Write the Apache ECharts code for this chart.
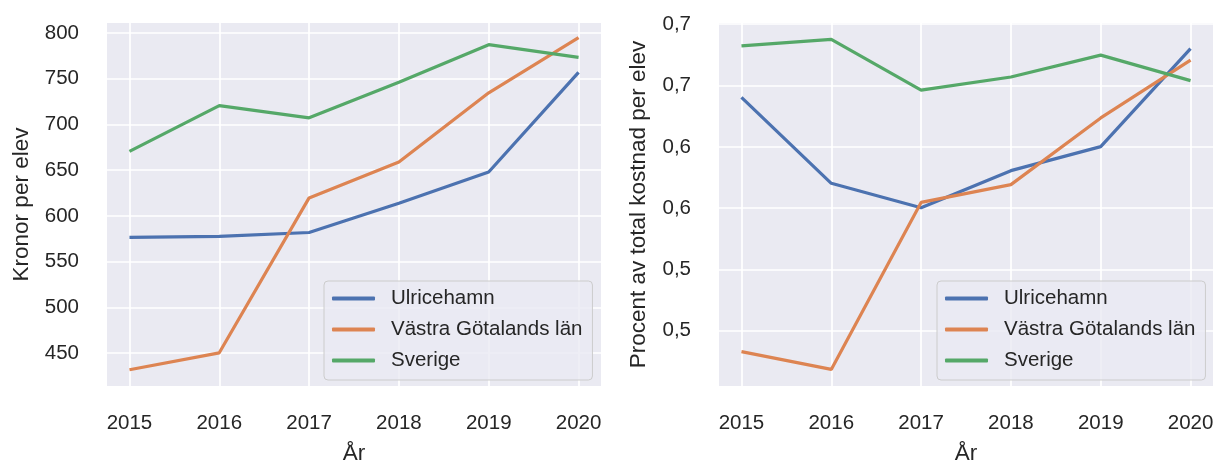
<!DOCTYPE html>
<html>
<head>
<meta charset="utf-8">
<script src="https://cdn.jsdelivr.net/npm/echarts@6/dist/echarts.min.js"></script>
<style>
html,body{margin:0;padding:0;background:#fff;}
#chart{width:1215px;height:464px;}
</style>
</head>
<body>
<div id="chart"></div>
<script>
const years = [2015, 2016, 2017, 2018, 2019, 2020];
const seriesNames = ['Ulricehamn', 'Västra Götalands län', 'Sverige'];

// Left: Kronor per elev
const kronorUlricehamn = [576.5, 577.6, 581.9, 613.9, 648.0, 757.0];
const kronorVastra     = [431.8, 450.3, 619.7, 658.9, 734.6, 795.0];
const kronorSverige    = [670.6, 720.7, 707.3, 746.2, 787.3, 773.4];

// Right: Procent av total kostnad per elev
const procentUlricehamn = [0.6403, 0.5703, 0.5504, 0.5806, 0.6002, 0.6801];
const procentVastra     = [0.4330, 0.4185, 0.5547, 0.5692, 0.6236, 0.6707];
const procentSverige    = [0.6823, 0.6877, 0.6462, 0.6570, 0.6748, 0.6540];

const leftTicks = [450, 500, 550, 600, 650, 700, 750, 800];
const rightTicks = [0.45, 0.50, 0.55, 0.60, 0.65, 0.70];
const rightTickLabels = ['0,5', '0,5', '0,6', '0,6', '0,7', '0,7'];

const colors = ['#4C72B0', '#DD8452', '#55A868'];
const textColor = '#262626';
const font = 'Liberation Sans, Arial, sans-serif';
const tickSize = 20.5;
const nameSize = 22.5;

function pairs(xs, ys) { return xs.map((x, i) => [x, ys[i]]); }

function xAxisDef(gridIndex) {
  return {
    type: 'value', gridIndex: gridIndex, min: 2014.75, max: 2020.25,
    name: 'År', nameLocation: 'middle', nameGap: 56,
    nameTextStyle: { color: textColor, fontSize: nameSize, fontFamily: font },
    axisLine: { show: false },
    axisTick: { show: false, customValues: years },
    axisLabel: { customValues: years, color: textColor, fontSize: tickSize, fontFamily: font, margin: 27,
      formatter: v => String(Math.round(v)) },
    splitLine: { show: true, lineStyle: { color: '#ffffff', width: 1.7 } }
  };
}

function yAxisDef(gridIndex, min, max, ticks, name, gap, fmt) {
  return {
    type: 'value', gridIndex: gridIndex, min: min, max: max,
    name: name, nameLocation: 'middle', nameGap: gap,
    nameTextStyle: { color: textColor, fontSize: nameSize, fontFamily: font },
    axisLine: { show: false },
    axisTick: { show: false, customValues: ticks },
    axisLabel: { customValues: ticks, color: textColor, fontSize: tickSize, fontFamily: font, margin: 28, formatter: fmt },
    splitLine: { show: true, lineStyle: { color: '#ffffff', width: 1.7 } }
  };
}

function lineSeries(name, data, idx, axisIdx) {
  return {
    type: 'line', name: name, data: data,
    xAxisIndex: axisIdx, yAxisIndex: axisIdx,
    showSymbol: false, symbol: 'none',
    lineStyle: { color: colors[idx], width: 3.2 },
    itemStyle: { color: colors[idx] },
    z: 3
  };
}

function legendDef(left) {
  return {
    data: seriesNames, orient: 'vertical', left: left, top: 281,
    icon: 'roundRect', itemWidth: 43, itemHeight: 4, itemGap: 10,
    padding: [7, 10, 9, 8],
    backgroundColor: 'rgba(234,234,242,0.8)',
    borderColor: '#cccccc', borderWidth: 1, borderRadius: 4,
    textStyle: { color: textColor, fontSize: tickSize, fontFamily: font, lineHeight: 20, padding: [0, 0, 0, 11] }
  };
}

const chart = echarts.init(document.getElementById('chart'), null, { renderer: 'canvas' });
chart.setOption({
  animation: false,
  backgroundColor: '#ffffff',
  grid: [
    { left: 107, right: 614, top: 23, bottom: 78, show: true, backgroundColor: '#EAEAF2', borderWidth: 0,
      containLabel: false, outerBoundsMode: 'none' },
    { left: 719, right: 2, top: 23, bottom: 78, show: true, backgroundColor: '#EAEAF2', borderWidth: 0,
      containLabel: false, outerBoundsMode: 'none' }
  ],
  xAxis: [xAxisDef(0), xAxisDef(1)],
  yAxis: [
    yAxisDef(0, 414, 811, leftTicks, 'Kronor per elev', 74, v => String(Math.round(v))),
    yAxisDef(1, 0.405, 0.701, rightTicks, 'Procent av total kostnad per elev', 69,
      v => { const i = rightTicks.findIndex(t => Math.abs(t - v) < 1e-6); return i >= 0 ? rightTickLabels[i] : ''; })
  ],
  legend: [legendDef(324), legendDef(937)],
  series: [
    lineSeries(seriesNames[0], pairs(years, kronorUlricehamn), 0, 0),
    lineSeries(seriesNames[1], pairs(years, kronorVastra), 1, 0),
    lineSeries(seriesNames[2], pairs(years, kronorSverige), 2, 0),
    lineSeries(seriesNames[0], pairs(years, procentUlricehamn), 0, 1),
    lineSeries(seriesNames[1], pairs(years, procentVastra), 1, 1),
    lineSeries(seriesNames[2], pairs(years, procentSverige), 2, 1)
  ]
});
</script>
</body>
</html>
